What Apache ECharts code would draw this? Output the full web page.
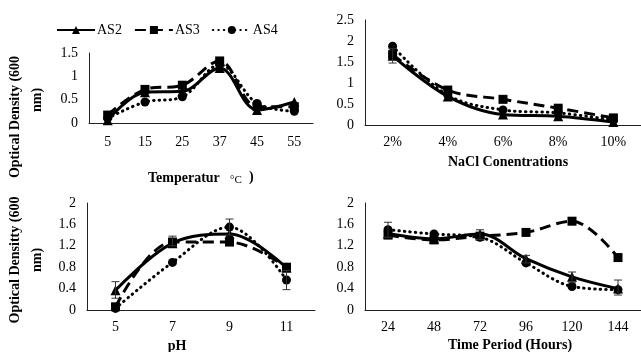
<!DOCTYPE html>
<html><head><meta charset="utf-8">
<script src="https://cdn.jsdelivr.net/npm/echarts@6/dist/echarts.min.js"></script>
<style>html,body{margin:0;padding:0;background:#fff}#c{width:641px;height:352px}</style>
</head><body><div id="c"></div>
<script>
// ---- data ----
const seriesNames = ['AS2', 'AS3', 'AS4'];

const tempCats = ['5', '15', '25', '37', '45', '55'];
const tempAS2 = [0.06, 0.66, 0.68, 1.18, 0.28, 0.45];
const tempAS3 = [0.17, 0.72, 0.81, 1.33, 0.35, 0.35];
const tempAS4 = [0.10, 0.45, 0.56, 1.25, 0.42, 0.25];
const tempErr = [];

const naclCats = ['2%', '4%', '6%', '8%', '10%'];
const naclAS2 = [1.65, 0.69, 0.26, 0.22, 0.08];
const naclAS3 = [1.68, 0.84, 0.62, 0.41, 0.18];
const naclAS4 = [1.88, 0.72, 0.37, 0.30, 0.13];
const naclErr = [[0, 1.48, 1.82]];

const phCats = ['5', '7', '9', '11'];
const phAS2 = [0.37, 1.25, 1.42, 0.79];
const phAS3 = [0.06, 1.27, 1.27, 0.80];
const phAS4 = [0.03, 0.89, 1.55, 0.56];
const phErr = [[0, 0.22, 0.53], [1, 1.20, 1.38], [2, 1.40, 1.70], [3, 0.38, 0.74]];

const timeCats = ['24', '48', '72', '96', '120', '144'];
const timeAS2 = [1.43, 1.33, 1.42, 0.96, 0.62, 0.40];
const timeAS3 = [1.40, 1.31, 1.38, 1.45, 1.66, 0.98];
const timeAS4 = [1.50, 1.42, 1.36, 0.88, 0.44, 0.38];
const timeErr = [[0, 1.36, 1.64], [2, 1.32, 1.50], [3, 0.88, 1.02], [4, 0.52, 0.71], [5, 0.28, 0.56]];

const yMax = [1.5, 2.5, 2, 2];
const yStep = [0.5, 0.5, 0.4, 0.4];

// ---- styling ----
const FONT = '"Liberation Serif", "Times New Roman", serif';
const BLACK = '#000';
const grids = [
  { left: 89, top: 53, width: 224, height: 70 },
  { left: 365, top: 20, width: 287, height: 105.5 },
  { left: 87, top: 203, width: 228, height: 107 },
  { left: 365, top: 203, width: 287, height: 107 }
];
const cats = [tempCats, naclCats, phCats, timeCats];
const vals = [
  [tempAS2, tempAS3, tempAS4],
  [naclAS2, naclAS3, naclAS4],
  [phAS2, phAS3, phAS4],
  [timeAS2, timeAS3, timeAS4]
];
const errs = [tempErr, naclErr, phErr, timeErr];

const styles = [
  { symbol: 'triangle', symbolSize: 10, lineStyle: { type: 'solid', width: 3 } },
  { symbol: 'rect', symbolSize: 9, lineStyle: { type: [11, 6], width: 3 } },
  { symbol: 'circle', symbolSize: 9, lineStyle: { type: [0.5, 5], width: 3, cap: 'round' } }
];

const xAxis = grids.map((g, i) => ({
  type: 'category', gridIndex: i, data: cats[i], boundaryGap: true,
  axisLine: { show: true, lineStyle: { color: '#222', width: 1 } },
  axisTick: { show: false },
  axisLabel: { color: BLACK, fontFamily: FONT, fontSize: 14, margin: i === 0 ? 12 : 10 }
}));
const yAxis = grids.map((g, i) => ({
  type: 'value', gridIndex: i, min: 0, max: yMax[i], interval: yStep[i],
  axisLine: { show: true, lineStyle: { color: '#222', width: 1 } },
  axisTick: { show: false },
  splitLine: { show: false },
  axisLabel: { color: BLACK, fontFamily: FONT, fontSize: 14, margin: 11,
    formatter: v => String(Math.round(v * 10) / 10) }
}));

const series = [];
grids.forEach((g, i) => {
  vals[i].forEach((data, k) => {
    series.push(Object.assign({
      type: 'line', name: seriesNames[k], xAxisIndex: i, yAxisIndex: i, data: data,
      smooth: 0.35, color: BLACK, itemStyle: { color: BLACK },
      z: 3, animation: false
    }, JSON.parse(JSON.stringify(styles[k]))));
  });
  if (errs[i].length) {
    series.push({
      type: 'custom', xAxisIndex: i, yAxisIndex: i, data: errs[i], z: 4, silent: true,
      animation: false,
      renderItem(params, api) {
        const x = api.value(0), lo = api.value(1), hi = api.value(2);
        const p1 = api.coord([x, lo]), p2 = api.coord([x, hi]);
        const w = 4, st = { stroke: '#333', lineWidth: 1 };
        return { type: 'group', children: [
          { type: 'line', shape: { x1: p1[0], y1: p1[1], x2: p2[0], y2: p2[1] }, style: st },
          { type: 'line', shape: { x1: p1[0] - w, y1: p1[1], x2: p1[0] + w, y2: p1[1] }, style: st },
          { type: 'line', shape: { x1: p2[0] - w, y1: p2[1], x2: p2[0] + w, y2: p2[1] }, style: st }
        ] };
      }
    });
  }
});

function txt(x, y, text, opts) {
  return Object.assign({
    type: 'text', x: x, y: y,
    style: Object.assign({ text: text, fill: BLACK, font: 'bold 14px ' + FONT,
      align: 'center', verticalAlign: 'middle' }, opts && opts.style || {})
  }, opts && opts.extra || {});
}

const graphic = [
  { type: 'text', x: 148, y: 178,
    style: { text: 'Temperatur', fill: BLACK, font: 'bold 14px ' + FONT, align: 'left', verticalAlign: 'middle' } },
  { type: 'text', x: 230, y: 180,
    style: { text: '°C', fill: BLACK, font: '11px ' + FONT, align: 'left', verticalAlign: 'middle' } },
  { type: 'text', x: 249, y: 177,
    style: { text: ')', fill: BLACK, font: 'bold 14px ' + FONT, align: 'left', verticalAlign: 'middle' } },
  txt(508, 162, 'NaCl Conentrations'),
  txt(177, 346, 'pH'),
  txt(510, 345, 'Time Period (Hours)'),
  txt(15, 117, 'Optical Density (600', { extra: { rotation: Math.PI / 2 } }),
  txt(37, 100, 'nm)', { extra: { rotation: Math.PI / 2 } }),
  txt(15, 260, 'Optical Densitty (600', { extra: { rotation: Math.PI / 2 } }),
  txt(37, 260, 'nm)', { extra: { rotation: Math.PI / 2 } })
];

const chart = echarts.init(document.getElementById('c'), null, { renderer: 'canvas' });
chart.setOption({
  animation: false,
  backgroundColor: '#fff',
  legend: {
    data: seriesNames, left: 51, top: 18, itemWidth: 38, itemHeight: 10, itemGap: 12,
    textStyle: { color: BLACK, fontFamily: FONT, fontSize: 14, padding: [0, 0, 0, -3] }
  },
  grid: grids.map(g => Object.assign({ containLabel: false }, g)),
  xAxis: xAxis,
  yAxis: yAxis,
  series: series,
  graphic: graphic
});
</script>
</body></html>
